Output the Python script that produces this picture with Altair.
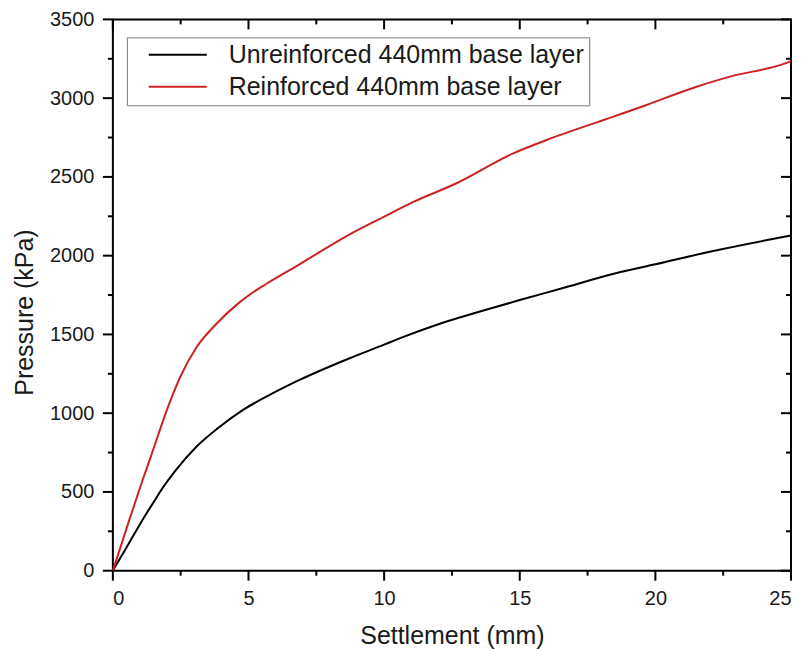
import altair as alt
import pandas as pd

# ---- data ----
series_names = ["Unreinforced 440mm base layer", "Reinforced 440mm base layer"]
series_colors = ["#000000", "#cc2222"]

unrein_x = [0, 0.3, 0.63, 0.81, 1.12, 1.6, 1.73, 2.33, 3.07, 3.94, 4.8, 5.78,
            6.88, 8.73, 10.0, 10.57, 12.0, 13.63, 15.0, 16.5, 18.54, 20.0,
            22.0, 25.0]
unrein_y = [0, 88, 185, 239, 330, 462, 498, 640, 785, 914, 1021, 1116,
            1211, 1349, 1435, 1475, 1565, 1650, 1718, 1790, 1888, 1945,
            2025, 2128]

rein_x = [0, 0.63, 1.1, 1.36, 2.1, 2.47, 3.09, 3.82, 4.68, 5.04, 5.65, 6.88,
          7.5, 8.73, 9.97, 11.06, 12.65, 14.74, 15.97, 18.43, 19.65, 21.49,
          22.72, 24.93, 25.0]
rein_y = [0, 335, 577, 705, 1070, 1225, 1420, 1568, 1705, 1752, 1820, 1945,
          2010, 2135, 2245, 2340, 2458, 2648, 2733, 2881, 2955, 3071,
          3135, 3230, 3235]

x_major = [0, 5, 10, 15, 20, 25]
x_minor = [2.5, 7.5, 12.5, 17.5, 22.5]
y_major = [0, 500, 1000, 1500, 2000, 2500, 3000, 3500]
y_minor = [250, 750, 1250, 1750, 2250, 2750, 3250]

df = pd.concat([
    pd.DataFrame({"x": unrein_x, "y": unrein_y, "series": series_names[0]}),
    pd.DataFrame({"x": rein_x, "y": rein_y, "series": series_names[1]}),
], ignore_index=True)

W, H = 679, 552
FONT = "Liberation Sans"
xs = alt.Scale(domain=[0, 25], nice=False, zero=False)
ys = alt.Scale(domain=[0, 3500], nice=False)

lines = alt.Chart(df).mark_line(strokeWidth=2, interpolate="monotone").encode(
    x=alt.X("x:Q", scale=xs,
            axis=alt.Axis(orient="bottom", values=x_major, ticks=False,
                          labelPadding=18, title="Settlement (mm)",
                          titlePadding=15, format="d", grid=False,
                          domain=False)),
    y=alt.Y("y:Q", scale=ys,
            axis=alt.Axis(orient="left", values=y_major, ticks=False,
                          labelPadding=19, title="Pressure (kPa)",
                          titleX=-75, titleY=293, format="d", grid=False,
                          domain=False)),
    color=alt.Color("series:N",
                    scale=alt.Scale(domain=series_names, range=series_colors),
                    legend=alt.Legend(title=None, orient="none", legendX=14,
                                      legendY=18, strokeColor="#777777",
                                      fillColor="white", padding=5,
                                      symbolType="stroke", symbolSize=3364,
                                      symbolStrokeWidth=2, clipHeight=25,
                                      rowPadding=6, symbolOffset=16,
                                      labelOffset=21, labelFontSize=25,
                                      labelFont=FONT, labelColor="#1a1a1a",
                                      labelLimit=600)),
)


def xticks(vals, y0, y1):
    return alt.Chart(pd.DataFrame({"v": vals})).mark_rule(
        color="black", strokeWidth=2
    ).encode(x=alt.X("v:Q", scale=xs, axis=None),
             y=alt.value(y0), y2=alt.value(y1))


def yticks(vals, x0, x1):
    return alt.Chart(pd.DataFrame({"v": vals})).mark_rule(
        color="black", strokeWidth=2
    ).encode(y=alt.Y("v:Q", scale=ys, axis=None),
             x=alt.value(x0), x2=alt.value(x1))


tick_layers = [
    xticks(x_major, H, H + 10), xticks(x_minor, H, H + 5),
    xticks(x_major, 0, 10), xticks(x_minor, 0, 5),
    yticks(y_major, -10, 0), yticks(y_minor, -5, 0),
    yticks(y_major, W - 10, W), yticks(y_minor, W - 5, W),
]

chart = alt.layer(lines, *tick_layers).resolve_axis(
    x="independent", y="independent"
).properties(
    width=W, height=H,
    padding={"left": 105, "top": 11, "right": 6, "bottom": 78},
    autosize="none",
).configure_view(
    stroke="black", strokeWidth=2
).configure_axis(
    labelFont=FONT, labelFontSize=20,
    labelColor="#1a1a1a", titleFont=FONT, titleFontSize=25,
    titleFontWeight="normal", titleColor="#1a1a1a"
)

chart.save("out.html", embed_options={"renderer": "svg", "actions": False})
